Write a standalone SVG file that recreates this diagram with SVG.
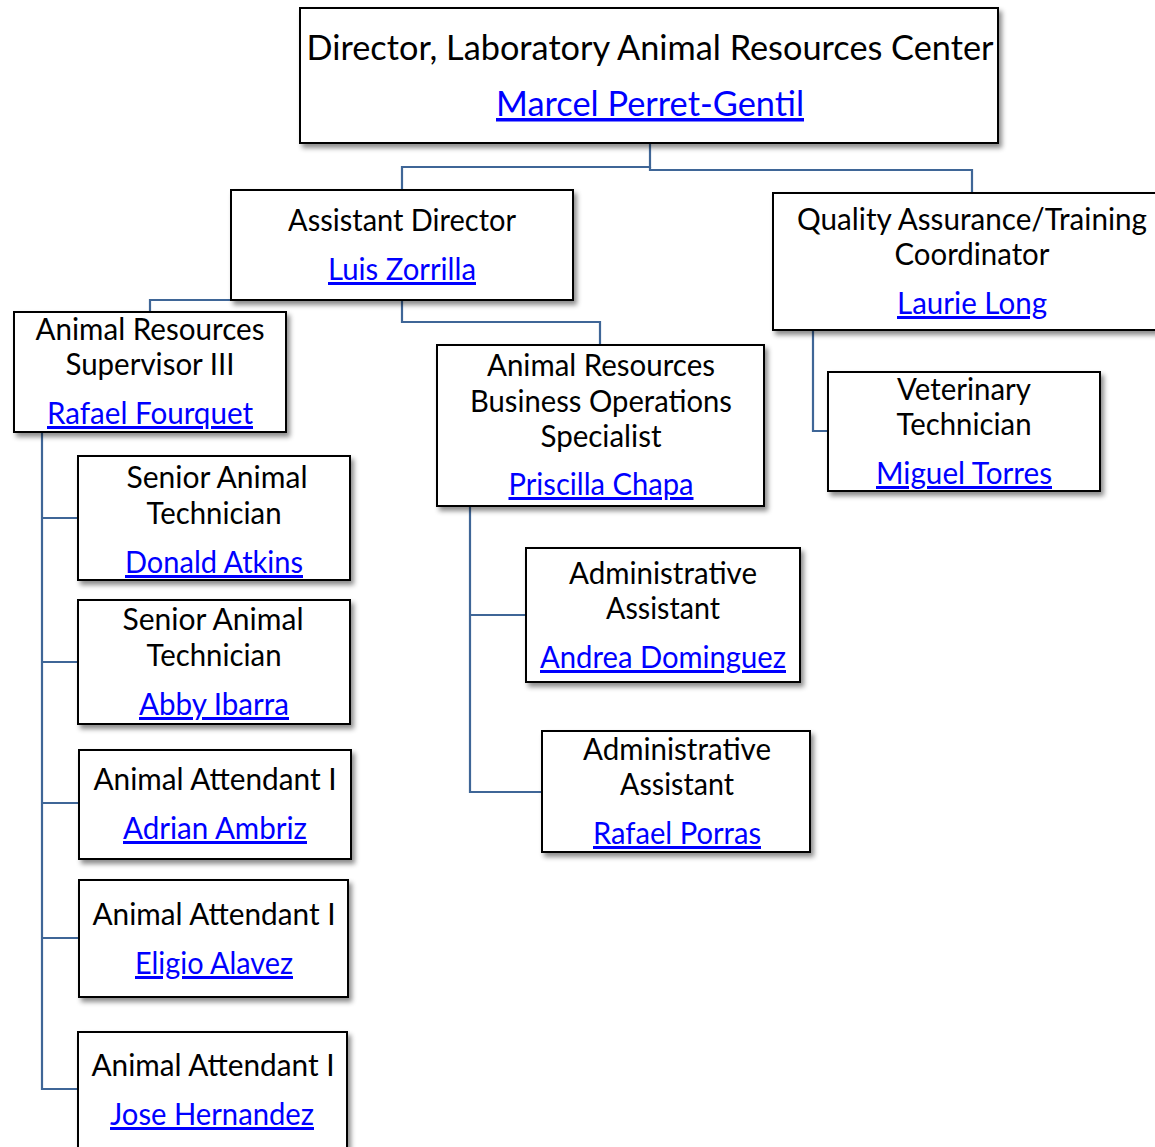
<svg xmlns="http://www.w3.org/2000/svg" width="1155" height="1147" viewBox="0 0 1155 1147">
<style>
.box{fill:#fff;stroke:#000;stroke-width:2;filter:url(#sh)}
.t{font-family:Lato,"Open Sans","Liberation Sans",sans-serif;font-size:30px;fill:#000;text-anchor:middle}
.big{font-size:35px}
.l{fill:#0000ff;text-decoration:underline}
.c{fill:none;stroke:#3f6697;stroke-width:2.2}
</style>
<defs>
<filter id="sh" x="-10%" y="-10%" width="125%" height="130%">
<feDropShadow dx="3" dy="4" stdDeviation="2.5" flood-color="#000" flood-opacity="0.45"/>
</filter>
</defs>
<g id="connectors">
<path class="c" d="M650 143 V167 H402 V190"/>
<path class="c" d="M650 167 V170 H972 V193"/>
<path class="c" d="M231 300 H150 V312"/>
<path class="c" d="M402 300 V322 H600 V345"/>
<path class="c" d="M813 330 V431 H828"/>
<path class="c" d="M42 432 V1089 H78"/>
<path class="c" d="M42 518 H78 M42 662 H78 M42 803 H79 M42 938 H79"/>
<path class="c" d="M470 506 V792 H542 M470 615 H526"/>
</g>
<g id="director">
<rect class="box" x="300" y="8" width="698" height="135"/>
<text class="t big" x="650" y="60" textLength="687" lengthAdjust="spacingAndGlyphs">Director, Laboratory Animal Resources Center</text>
<text class="t big l" x="650" y="116" textLength="308" lengthAdjust="spacingAndGlyphs">Marcel Perret-Gentil</text>
</g>
<g id="asst-director">
<rect class="box" x="231" y="190" width="342" height="110"/>
<text class="t" x="402" y="231" textLength="228" lengthAdjust="spacingAndGlyphs">Assistant Director</text>
<text class="t l" x="402" y="280" textLength="148" lengthAdjust="spacingAndGlyphs">Luis Zorrilla</text>
</g>
<g id="qa-coordinator">
<rect class="box" x="773" y="193" width="398" height="137"/>
<text class="t" x="972" y="230" textLength="350" lengthAdjust="spacingAndGlyphs">Quality Assurance/Training</text>
<text class="t" x="972" y="265" textLength="155" lengthAdjust="spacingAndGlyphs">Coordinator</text>
<text class="t l" x="972" y="314" textLength="150" lengthAdjust="spacingAndGlyphs">Laurie Long</text>
</g>
<g id="supervisor">
<rect class="box" x="14" y="312" width="272" height="120"/>
<text class="t" x="150" y="340" textLength="229" lengthAdjust="spacingAndGlyphs">Animal Resources</text>
<text class="t" x="150" y="375" textLength="169" lengthAdjust="spacingAndGlyphs">Supervisor III</text>
<text class="t l" x="150" y="424" textLength="206" lengthAdjust="spacingAndGlyphs">Rafael Fourquet</text>
</g>
<g id="business-ops">
<rect class="box" x="437" y="345" width="327" height="161"/>
<text class="t" x="601" y="376" textLength="228" lengthAdjust="spacingAndGlyphs">Animal Resources</text>
<text class="t" x="601" y="412" textLength="262" lengthAdjust="spacingAndGlyphs">Business Operations</text>
<text class="t" x="601" y="447" textLength="121" lengthAdjust="spacingAndGlyphs">Specialist</text>
<text class="t l" x="601" y="495" textLength="185" lengthAdjust="spacingAndGlyphs">Priscilla Chapa</text>
</g>
<g id="vet-tech">
<rect class="box" x="828" y="372" width="272" height="119"/>
<text class="t" x="964" y="400" textLength="134" lengthAdjust="spacingAndGlyphs">Veterinary</text>
<text class="t" x="964" y="435" textLength="135" lengthAdjust="spacingAndGlyphs">Technician</text>
<text class="t l" x="964" y="484" textLength="176" lengthAdjust="spacingAndGlyphs">Miguel Torres</text>
</g>
<g id="sr-tech-1">
<rect class="box" x="78" y="456" width="272" height="124"/>
<text class="t" x="217" y="488" textLength="181" lengthAdjust="spacingAndGlyphs">Senior Animal</text>
<text class="t" x="214" y="524" textLength="135" lengthAdjust="spacingAndGlyphs">Technician</text>
<text class="t l" x="214" y="573" textLength="178" lengthAdjust="spacingAndGlyphs">Donald Atkins</text>
</g>
<g id="sr-tech-2">
<rect class="box" x="78" y="600" width="272" height="124"/>
<text class="t" x="213" y="630" textLength="181" lengthAdjust="spacingAndGlyphs">Senior Animal</text>
<text class="t" x="214" y="666" textLength="135" lengthAdjust="spacingAndGlyphs">Technician</text>
<text class="t l" x="214" y="715" textLength="150" lengthAdjust="spacingAndGlyphs">Abby Ibarra</text>
</g>
<g id="attendant-1">
<rect class="box" x="79" y="750" width="272" height="109"/>
<text class="t" x="215" y="790" textLength="243" lengthAdjust="spacingAndGlyphs">Animal Attendant I</text>
<text class="t l" x="215" y="839" textLength="184" lengthAdjust="spacingAndGlyphs">Adrian Ambriz</text>
</g>
<g id="attendant-2">
<rect class="box" x="79" y="880" width="269" height="117"/>
<text class="t" x="214" y="925" textLength="243" lengthAdjust="spacingAndGlyphs">Animal Attendant I</text>
<text class="t l" x="214" y="974" textLength="158" lengthAdjust="spacingAndGlyphs">Eligio Alavez</text>
</g>
<g id="attendant-3">
<rect class="box" x="78" y="1032" width="269" height="125"/>
<text class="t" x="213" y="1076" textLength="243" lengthAdjust="spacingAndGlyphs">Animal Attendant I</text>
<text class="t l" x="212" y="1125" textLength="204" lengthAdjust="spacingAndGlyphs">Jose Hernandez</text>
</g>
<g id="admin-1">
<rect class="box" x="526" y="548" width="274" height="134"/>
<text class="t" x="663" y="584" textLength="188" lengthAdjust="spacingAndGlyphs">Administrative</text>
<text class="t" x="663" y="619" textLength="114" lengthAdjust="spacingAndGlyphs">Assistant</text>
<text class="t l" x="663" y="668" textLength="246" lengthAdjust="spacingAndGlyphs">Andrea Dominguez</text>
</g>
<g id="admin-2">
<rect class="box" x="542" y="731" width="268" height="121"/>
<text class="t" x="677" y="760" textLength="188" lengthAdjust="spacingAndGlyphs">Administrative</text>
<text class="t" x="677" y="795" textLength="114" lengthAdjust="spacingAndGlyphs">Assistant</text>
<text class="t l" x="677" y="844" textLength="168" lengthAdjust="spacingAndGlyphs">Rafael Porras</text>
</g>
</svg>
